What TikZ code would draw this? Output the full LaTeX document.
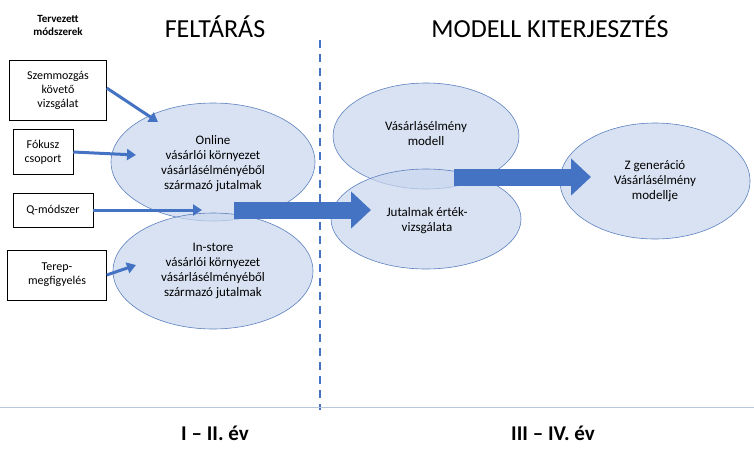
\documentclass[tikz,border=0pt]{standalone}
\usepackage{fontspec}
\setmainfont{Carlito}
\usetikzlibrary{shapes.geometric,arrows.meta}
\definecolor{elfill}{rgb}{0.79,0.84,0.93}
\definecolor{eldraw}{rgb}{0.36,0.50,0.75}
\definecolor{arrblue}{rgb}{0.27,0.45,0.77}
\definecolor{rulegray}{rgb}{0.72,0.78,0.86}
\tikzset{
  halmaz/.style={ellipse, draw=eldraw, line width=0.6pt, fill=elfill, fill opacity=0.7},
  modszer/.style={draw=black, line width=0.5pt, align=center, font=\fontsize{12}{14}\selectfont, inner sep=2pt},
  szoveg/.style={align=center, font=\fontsize{13}{15}\selectfont},
  nyil/.style={draw=arrblue, line width=3pt, -{Triangle[length=9pt,width=11pt]}},
  vastag/.style={draw=arrblue, line width=17pt, -{Triangle[length=20pt,width=36pt]}},
}
\begin{document}
\begin{tikzpicture}[x=1pt,y=-1pt]
\useasboundingbox (0,0) rectangle (754,450);
% fejlec
\node[align=center, font=\bfseries\fontsize{11}{13}\selectfont] (tervezett) at (58,25) {Tervezett\\módszerek};
\node[font=\fontsize{26}{30}\selectfont] (feltaras) at (215,27) {FELTÁRÁS};
\node[font=\fontsize{26}{30}\selectfont] (modell) at (550,27) {MODELL KITERJESZTÉS};
% elvalasztok
\coordinate (vt) at (320,40);
\coordinate (vb) at (320,410);
\draw[arrblue, line width=2.5pt, dash pattern=on 8pt off 6pt] (vt) -- (vb);
\coordinate (hl) at (0,407);
\coordinate (hr) at (754,407);
\draw[rulegray, line width=0.8pt] (hl) -- (hr);
\node[font=\bfseries\fontsize{21}{25}\selectfont] (ev1) at (215,433) {I -- II. év};
\node[font=\bfseries\fontsize{21}{25}\selectfont] (ev2) at (553,433) {III -- IV. év};
% halmazok
\node[halmaz, minimum width=204, minimum height=118] (online) at (213,162) {};
\node[halmaz, minimum width=200, minimum height=116] (instore) at (213,271) {};
\node[halmaz, minimum width=186, minimum height=106] (vmodell) at (426,136) {};
\node[halmaz, minimum width=190, minimum height=100] (jutalmak) at (426,219) {};
\node[halmaz, minimum width=190, minimum height=116] (zgen) at (655,181) {};
\node[szoveg] (onlinet) at (213,164) {Online\\vásárlói környezet\\vásárlásélményéből\\származó jutalmak};
\node[szoveg] (instoret) at (213,271) {In-store\\vásárlói környezet\\vásárlásélményéből\\származó jutalmak};
\node[szoveg] (vmodellt) at (426,134) {Vásárlásélmény\\modell};
\node[szoveg] (jutalmakt) at (427,221) {Jutalmak érték-\\vizsgálata};
\node[szoveg] (zgent) at (655,181) {Z generáció\\Vásárlásélmény\\modellje};
% modszerek
\node[modszer, minimum width=97, minimum height=60] (szem) at (58,90) {Szemmozgás\\követő\\vizsgálat};
\node[modszer, minimum width=60, minimum height=45] (fokusz) at (43,152) {Fókusz\\csoport};
\node[modszer, minimum width=80, minimum height=34] (qmod) at (53,210) {Q-módszer};
\node[modszer, minimum width=99, minimum height=50] (terep) at (57,275) {Terep-\\megfigyelés};
% nyilak
\coordinate (szemv) at (158,122);
\coordinate (fokuszv) at (136,155);
\coordinate (qv) at (202,210);
\coordinate (terepv) at (136,265);
\draw[nyil] (szem.east) ++(0,-2) -- (szemv);
\draw[nyil] (fokusz.east) -- (fokuszv);
\draw[nyil] (qmod.east) -- (qv);
\draw[nyil] (terep.east) -- (terepv);
\coordinate (nagy1a) at (234,210);
\coordinate (nagy1b) at (371,210);
\coordinate (nagy2a) at (454,177);
\coordinate (nagy2b) at (591,177);
\draw[vastag] (nagy1a) -- (nagy1b);
\draw[vastag] (nagy2a) -- (nagy2b);
\end{tikzpicture}
\end{document}
